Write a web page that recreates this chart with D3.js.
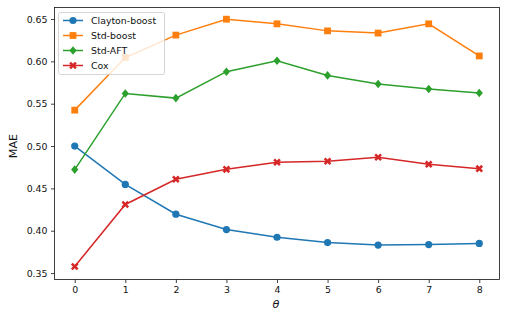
<!DOCTYPE html>
<html><head><meta charset="utf-8">
<script src="https://cdn.jsdelivr.net/npm/d3@7"></script>
<style>body{margin:0;background:#fff}svg{display:block;font-family:"DejaVu Sans",sans-serif}</style>
</head><body><svg id="c" width="507" height="320"></svg>
<script>
const thetas = [0,1,2,3,4,5,6,7,8];
const claytonBoost = [0.500,0.4547,0.4195,0.4014,0.3923,0.3860,0.3830,0.3837,0.3850];
const stdBoost = [0.5424,0.6045,0.6310,0.6498,0.6443,0.6360,0.6334,0.6443,0.6064];
const stdAFT = [0.4722,0.5621,0.5566,0.5878,0.6008,0.5834,0.5732,0.5673,0.5626];
const cox = [0.3578,0.4310,0.4607,0.4725,0.4808,0.4820,0.4868,0.4785,0.4733];
const seriesNames = ["Clayton-boost","Std-boost","Std-AFT","Cox"];
const colors = ["#1f77b4","#ff7f0e","#2ca02c","#d62728"];
const yTicks = [0.35,0.40,0.45,0.50,0.55,0.60,0.65];

const svg = d3.select("#c");
const L=54.5,R=499.5,T=7.5,B=279.5;
const x = d3.scaleLinear().domain([-0.4,8.4]).range([L,R]);
const y = d3.scaleLinear().domain([0.3424,0.6636]).range([B,T]);

const gx = svg.append("g").attr("transform",`translate(0,${B})`)
  .call(d3.axisBottom(x).tickValues(thetas).tickSize(3.5).tickPadding(3.5).tickFormat(d3.format("d")));
const gy = svg.append("g").attr("transform",`translate(${L},0)`)
  .call(d3.axisLeft(y).tickValues(yTicks).tickSize(3.5).tickPadding(3.5).tickFormat(d3.format(".2f")));
[gx,gy].forEach(g=>{g.select(".domain").remove();g.selectAll("text").attr("font-size",9.4).attr("fill","#111").attr("font-family","DejaVu Sans");g.selectAll("line").attr("stroke","#111").attr("stroke-width",0.8);});
svg.append("rect").attr("x",L).attr("y",T).attr("width",R-L).attr("height",B-T).attr("fill","none").attr("stroke","#111").attr("stroke-width",0.8);

svg.append("text").attr("x",276).attr("y",308).attr("text-anchor","middle").attr("font-size",11.2).attr("font-style","italic").attr("fill","#111").text("θ");
svg.append("text").attr("transform","translate(17,146) rotate(-90)").attr("text-anchor","middle").attr("font-size",11.2).attr("fill","#111").text("MAE");

const data = [claytonBoost,stdBoost,stdAFT,cox];
function marker(g,i,cx,cy){
  if(i===3){
    const s=3.8,w=1.8;
    const p=`M${-s},${-s+w}L${-s+w},${-s}L0,${-w}L${s-w},${-s}L${s},${-s+w}L${w},0L${s},${s-w}L${s-w},${s}L0,${w}L${-s+w},${s}L${-s},${s-w}L${-w},0Z`;
    g.append("path").attr("d",p).attr("transform",`translate(${cx},${cy})`).attr("fill",colors[i]);
  } else if(i===2){
    g.append("path").attr("d","M0,-4.3L3.6,0L0,4.3L-3.6,0Z").attr("transform",`translate(${cx},${cy})`).attr("fill",colors[i]);
  } else if(i===1){
    g.append("rect").attr("x",cx-3.4).attr("y",cy-3.4).attr("width",6.8).attr("height",6.8).attr("fill",colors[i]);
  } else {
    g.append("circle").attr("cx",cx).attr("cy",cy).attr("r",3.6).attr("fill",colors[i]);
  }
}
const line = d3.line().x((d,j)=>x(thetas[j])).y(d=>y(d));
data.forEach((vals,i)=>{
  const g=svg.append("g");
  g.append("path").datum(vals).attr("d",line).attr("fill","none").attr("stroke",colors[i]).attr("stroke-width",1.5);
  vals.forEach((v,j)=>marker(g,i,x(thetas[j]),y(v)));
});

const lg = svg.append("g");
lg.append("rect").attr("x",58.5).attr("y",12.5).attr("width",106).attr("height",62).attr("rx",2).attr("fill","#fff").attr("fill-opacity",0.8).attr("stroke","#ccc").attr("stroke-width",0.8);
seriesNames.forEach((n,i)=>{
  const yy=20.5+i*15;
  lg.append("line").attr("x1",63).attr("x2",83).attr("y1",yy).attr("y2",yy).attr("stroke",colors[i]).attr("stroke-width",1.5);
  marker(lg,i,73,yy);
  lg.append("text").attr("x",91).attr("y",yy+3.4).attr("font-size",9.4).attr("fill","#111").text(n);
});
</script></body></html>
